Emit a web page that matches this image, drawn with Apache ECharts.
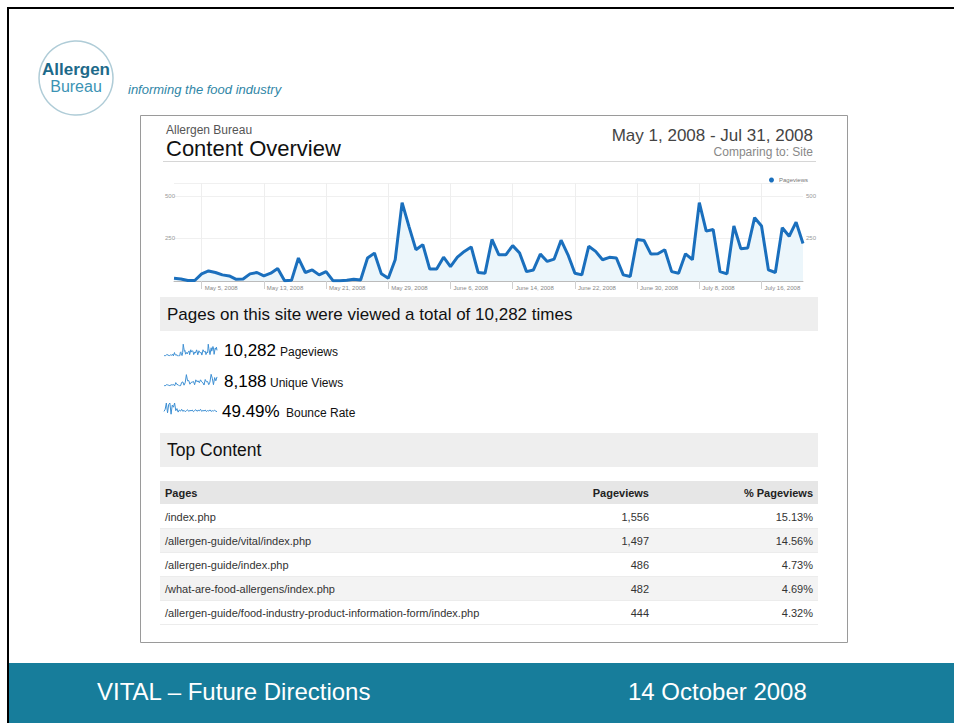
<!DOCTYPE html>
<html><head><meta charset="utf-8">
<script src="https://cdn.jsdelivr.net/npm/echarts@6/dist/echarts.min.js"></script>
<style>html,body{margin:0;padding:0;background:#fff}#c{width:954px;height:723px}</style>
</head><body><div id="c"></div>
<script>
// ---------- DATA ----------
const monthsSpan = [['May', 31], ['June', 30], ['July', 31]];
const dates = [];
monthsSpan.forEach(([m, n]) => { for (let d = 1; d <= n; d++) dates.push(m + ' ' + d + ', 2008'); });

const pageviews = [16, 12, 3, 3, 42, 59, 50, 36, 30, 10, 12, 42, 50, 30, 46, 73, 2, 4, 135, 50,
  65, 36, 55, 2, 2, 4, 10, 6, 135, 164, 42, 16, 125, 461, 320, 184, 214, 70, 70, 140,
  85, 140, 174, 200, 50, 46, 244, 154, 154, 208, 164, 55, 65, 158, 115, 129, 240, 154, 46, 36,
  204, 174, 125, 139, 135, 36, 26, 244, 238, 158, 160, 184, 55, 46, 160, 125, 461, 293, 303, 55,
  42, 323, 190, 194, 372, 323, 65, 50, 313, 263, 346, 220];

const tickLabels = ['May 5, 2008', 'May 13, 2008', 'May 21, 2008', 'May 29, 2008', 'June 6, 2008',
  'June 14, 2008', 'June 22, 2008', 'June 30, 2008', 'July 8, 2008', 'July 16, 2008'];
const yTicks = [250, 500];

const uniqueSpark = [12, 2, 40, 35, 22, 9, 38, 32, 48, 2, 105, 45, 40, 3, 4, 110, 125, 25, 100, 350,
  160, 170, 55, 110, 120, 140, 38, 190, 130, 160, 100, 190, 130, 100, 30, 200, 130, 140, 40, 120,
  360, 240, 40, 260, 160, 280];
const bounceSpark = [40, 55, 100, 30, 90, 100, 20, 85, 70, 100, 45, 60, 35, 50, 42, 55, 40, 48, 38, 45,
  52, 40, 47, 44, 50, 38, 46, 52, 41, 48, 44, 55, 40, 47, 43, 50, 39, 46, 42, 51, 40, 45, 43, 48, 42, 38];

const statNumbers = ['10,282', '8,188', '49.49%'];
const statNames = ['Pageviews', 'Unique Views', 'Bounce Rate'];

const tablePages = ['/index.php', '/allergen-guide/vital/index.php', '/allergen-guide/index.php',
  '/what-are-food-allergens/index.php', '/allergen-guide/food-industry-product-information-form/index.php'];
const tableViews = [1556, 1497, 486, 482, 444];
const tablePct = [15.13, 14.56, 4.73, 4.69, 4.32];

// ---------- LAYOUT ----------
const FONT = '"Liberation Sans", Arial, Helvetica, sans-serif';
const TICK0 = 4, TICKSTEP = 9;
const isTick = i => i >= TICK0 && (i - TICK0) % TICKSTEP === 0 && (i - TICK0) / TICKSTEP < tickLabels.length;

function T(x, y, text, size, fill, opts) {
  opts = opts || {};
  const weight = opts.weight || 'normal';
  const style = {
    text: text, fill: fill,
    font: (opts.italic ? 'italic ' : '') + weight + ' ' + size + 'px ' + FONT,
    align: opts.align || 'left', verticalAlign: 'middle',
    textAlign: opts.align || 'left', textVerticalAlign: 'middle'
  };
  return { type: 'text', x: x, y: y, z: 10, silent: true, style: style };
}
function R(x, y, w, h, fill, z) {
  return { type: 'rect', z: z == null ? 0 : z, silent: true, shape: { x: x, y: y, width: w, height: h }, style: { fill: fill } };
}
function L(x1, y1, x2, y2, stroke, w) {
  return { type: 'line', z: 1, silent: true, shape: { x1: x1, y1: y1, x2: x2, y2: y2 }, style: { stroke: stroke, lineWidth: w || 1 } };
}

const g = [];
// slide frame
g.push(R(7, 7, 947, 2, '#000', 5));
g.push(R(7, 7, 2, 716, '#000', 5));
// footer
g.push(R(9, 663, 945, 60, '#177d9b', 1));
g.push(T(97, 691, 'VITAL – Future Directions', 24, '#ffffff'));
g.push(T(628, 691, '14 October 2008', 24, '#ffffff'));
// logo
g.push({ type: 'circle', z: 1, silent: true, shape: { cx: 76, cy: 78, r: 37 }, style: { fill: 'none', stroke: '#afccd7', lineWidth: 1.5 } });
g.push(T(76, 69, 'Allergen', 17, '#1d6a8a', { align: 'center', weight: 'bold' }));
g.push(T(76, 86, 'Bureau', 16, '#3b93b4', { align: 'center' }));
g.push(T(128, 89, 'informing the food industry', 13, '#2f86a6', { italic: true }));
// screenshot box
g.push({ type: 'rect', z: 1, silent: true, shape: { x: 140.5, y: 115.5, width: 707, height: 527 }, style: { fill: 'none', stroke: '#9a9a9a', lineWidth: 1 } });
// header
g.push(T(166, 130, 'Allergen Bureau', 12, '#555'));
g.push(T(166, 148, 'Content Overview', 22, '#111'));
g.push(T(813, 135, 'May 1, 2008 - Jul 31, 2008', 17, '#444', { align: 'right' }));
g.push(T(813, 152, 'Comparing to: Site', 12, '#888', { align: 'right' }));
g.push(L(163, 161.5, 816, 161.5, '#d6d6d6', 1));
// section bars
g.push(R(160, 297, 658, 34, '#eeeeee', 0));
g.push(T(167, 314, 'Pages on this site were viewed a total of ' + statNumbers[0] + ' times', 17, '#111'));
g.push(R(160, 433, 658, 34, '#eeeeee', 0));
g.push(T(167, 450, 'Top Content', 17.5, '#111'));
// stats
const statY = [350, 381, 411];
const statNumX = [224, 224, 222];
const statNameX = [280, 270, 286];
statNumbers.forEach((s, i) => {
  g.push(T(statNumX[i], statY[i], s, 17, '#000'));
  g.push(T(statNameX[i], statY[i] + 1.5, statNames[i], 12, '#111'));
});
// table
g.push(R(160, 481, 658, 23, '#e6e6e6', 0));
g.push(T(165, 493, 'Pages', 11, '#222', { weight: 'bold' }));
g.push(T(649, 493, 'Pageviews', 11, '#222', { weight: 'bold', align: 'right' }));
g.push(T(813, 493, '% Pageviews', 11, '#222', { weight: 'bold', align: 'right' }));
tablePages.forEach((p, i) => {
  const y0 = 505 + i * 24;
  g.push(R(160, y0, 658, 24, i % 2 ? '#f3f3f3' : '#ffffff', 0));
  g.push(L(160, y0 + 23.5, 818, y0 + 23.5, '#ececec', 1));
  g.push(T(165, y0 + 12, p, 11, '#333'));
  g.push(T(649, y0 + 12, tableViews[i].toLocaleString('en-US'), 11, '#333', { align: 'right' }));
  g.push(T(813, y0 + 12, tablePct[i].toFixed(2) + '%', 11, '#333', { align: 'right' }));
});

// ---------- CHART ----------
const chart = echarts.init(document.getElementById('c'), null, { renderer: 'svg' });
function sparkX(idx, n) { return { type: 'category', gridIndex: idx, boundaryGap: false, data: Array.from({ length: n }, (_, k) => k), show: false }; }
function sparkY(idx, max) { return { type: 'value', gridIndex: idx, min: 0, max: max, show: false, splitLine: { show: false } }; }
const sparkLine = { color: '#3d8fd3', width: 1 };

chart.setOption({
  animation: false,
  textStyle: { fontFamily: FONT },
  legend: {
    right: 141, top: 172, icon: 'circle', itemWidth: 5, itemHeight: 5, itemGap: 4,
    data: ['Pageviews'], textStyle: { fontSize: 6, color: '#777' }, selectedMode: false
  },
  grid: [
    { left: 174, right: 151, top: 183, bottom: 442 },
    { left: 164, width: 53, top: 344, height: 12 },
    { left: 164, width: 53, top: 374, height: 12 },
    { left: 164, width: 53, top: 403, height: 14 }
  ],
  xAxis: [
    {
      type: 'category', gridIndex: 0, data: dates, boundaryGap: false,
      axisLine: { lineStyle: { color: '#bbbbbb' } },
      axisTick: { show: true, interval: (i) => isTick(i), length: 8, lineStyle: { color: '#d0d0d0' } },
      axisLabel: {
        interval: (i) => isTick(i), formatter: (v, i) => tickLabels[(i - TICK0) / TICKSTEP],
        align: 'left', padding: [0, 0, 0, 3], fontSize: 6, color: '#888', margin: 4
      },
      splitLine: { show: true, interval: (i) => isTick(i), lineStyle: { color: '#eeeeee' } }
    },
    sparkX(1, pageviews.length), sparkX(2, uniqueSpark.length), sparkX(3, bounceSpark.length)
  ],
  yAxis: [
    {
      type: 'value', gridIndex: 0, min: 0, max: 576, interval: yTicks[0],
      axisLine: { show: false }, axisTick: { show: false },
      axisLabel: { showMinLabel: false, showMaxLabel: false, fontSize: 6, color: '#999', margin: -1 },
      splitLine: { lineStyle: { color: '#f0f0f0' } }
    },
    {
      type: 'value', gridIndex: 0, min: 0, max: 576, interval: yTicks[0], position: 'right',
      axisLine: { show: false }, axisTick: { show: false },
      axisLabel: { showMinLabel: false, showMaxLabel: false, fontSize: 6, color: '#999', margin: 3 },
      splitLine: { show: false }
    },
    sparkY(1, 470), sparkY(2, 370), sparkY(3, 100)
  ],
  graphic: g,
  series: [
    {
      name: 'Pageviews', type: 'line', xAxisIndex: 0, yAxisIndex: 0, data: pageviews,
      showSymbol: false, symbol: 'circle', color: '#1a6fbd',
      lineStyle: { width: 3, color: '#1a6fbd' },
      areaStyle: { color: '#ecf6fb', opacity: 1 }
    },
    { type: 'line', xAxisIndex: 1, yAxisIndex: 2, data: pageviews, showSymbol: false, lineStyle: sparkLine, color: '#3d8fd3' },
    { type: 'line', xAxisIndex: 2, yAxisIndex: 3, data: uniqueSpark, showSymbol: false, lineStyle: sparkLine, color: '#3d8fd3' },
    { type: 'line', xAxisIndex: 3, yAxisIndex: 4, data: bounceSpark, showSymbol: false, lineStyle: sparkLine, color: '#3d8fd3' }
  ]
});
</script>
</body></html>
